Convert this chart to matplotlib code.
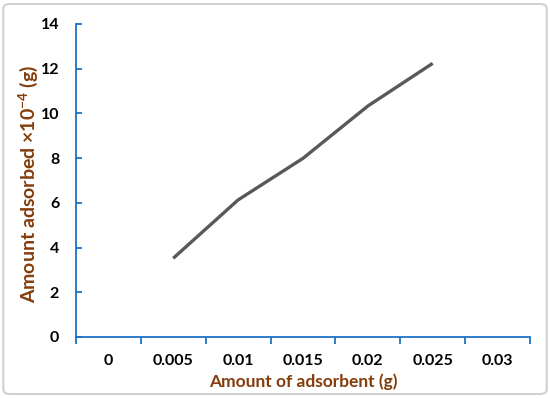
import numpy as np
import matplotlib.pyplot as plt
from matplotlib.patches import FancyBboxPatch

# Dados
categorias = ["0", "0.005", "0.01", "0.015", "0.02", "0.025", "0.03"]
x_pontos = ["0.005", "0.01", "0.015", "0.02", "0.025"]
y_pontos = [3.52, 6.13, 7.99, 10.33, 12.24]

azul = "#1a73c9"
marrom = "#843c0c"
fonte = "Lato"

plt.rcParams["font.family"] = [fonte, "DejaVu Sans"]
plt.rcParams["mathtext.fontset"] = "custom"
plt.rcParams["mathtext.rm"] = fonte
plt.rcParams["mathtext.bf"] = fonte + ":bold"

fig = plt.figure(figsize=(5.5, 3.98), dpi=100)
ax = fig.add_axes([0.138, 0.1533, 0.8256, 0.7864])

# Moldura arredondada da figura
borda = FancyBboxPatch((0.006, 0.01), 0.988, 0.98, boxstyle="round,pad=0,rounding_size=0.012",
                       transform=fig.transFigure, facecolor="none", edgecolor="#d0d0d0",
                       linewidth=1.5, zorder=0)
fig.patches.append(borda)

pos = [categorias.index(c) for c in x_pontos]
ax.plot(pos, y_pontos, color="#595959", linewidth=2.4, solid_capstyle="butt")

ax.set_xlim(-0.5, len(categorias) - 0.5)
ax.set_ylim(0, 14)
ax.set_yticks(np.arange(0, 15, 2))
ax.set_xticks(range(len(categorias)))
ax.set_xticklabels(categorias)
ax.set_xticks(np.arange(-0.5, len(categorias), 1), minor=True)

for s in ["top", "right"]:
    ax.spines[s].set_visible(False)
for s in ["left", "bottom"]:
    ax.spines[s].set_color(azul)
    ax.spines[s].set_linewidth(1.3)

ax.tick_params(axis="x", which="major", length=0, pad=12, labelsize=11.5)
ax.tick_params(axis="x", which="minor", length=5, width=1.3, color=azul, direction="out")
ax.tick_params(axis="y", length=4, width=1.3, color=azul, direction="in", pad=12, labelsize=11.5)
for lbl in ax.get_xticklabels() + ax.get_yticklabels():
    lbl.set_fontweight("bold")

ax.set_xlabel("Amount of adsorbent (g)", color=marrom, fontsize=12.5, fontweight="bold", labelpad=4)
ax.set_ylabel(r"Amount adsorbed ×10$^{\mathbf{-4}}$ (g)", color=marrom, fontsize=14,
              fontweight="bold")
ax.yaxis.set_label_coords(-0.078, 0.49)

plt.savefig("out.png", dpi=100)
